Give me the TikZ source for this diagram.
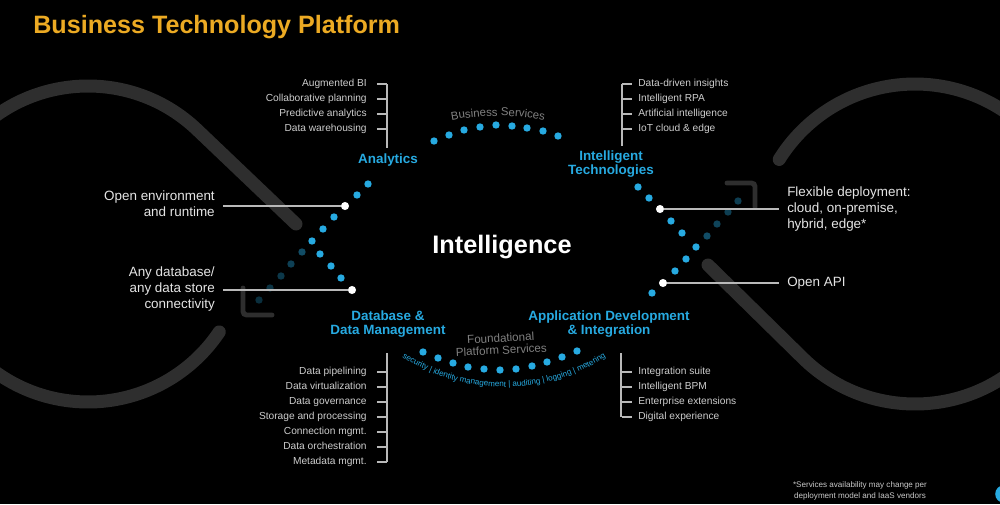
\documentclass[tikz,border=0pt]{standalone}
\usepackage{fontspec}
\setmainfont{Liberation Sans}
\usetikzlibrary{decorations.text}
\definecolor{sapgold}{RGB}{236,170,35}
\definecolor{sapblue}{RGB}{39,170,225}
\definecolor{loopgray}{RGB}{46,46,46}
\definecolor{listgray}{RGB}{205,205,205}
\definecolor{softwhite}{RGB}{228,228,228}
\definecolor{linegray}{RGB}{185,185,185}
\definecolor{svcgray}{RGB}{128,128,128}
\definecolor{notegray}{RGB}{200,200,200}

\begin{document}
\begin{tikzpicture}[
    x=0.02cm, y=-0.02cm,
    area/.style={
        font=\fontsize{7.65}{7.55}\selectfont\bfseries,
        text=sapblue,
        align=center,
        inner sep=0pt
    },
    sidetext/.style={
        font=\fontsize{7.65}{9.1}\selectfont,
        text=softwhite,
        inner xsep=4.5pt,
        inner ysep=0pt
    },
    itemtext/.style={
        font=\fontsize{5.8}{7}\selectfont,
        text=listgray,
        inner sep=0pt,
        text height=4pt,
        text depth=1.2pt
    },
    bracket/.style={draw=linegray, line width=0.8pt},
    lead/.style={draw=linegray, line width=0.8pt},
    loop/.style={draw=loopgray, line width=7.4pt, line cap=round},
    corner/.style={draw=loopgray, line width=2.8pt, line cap=round, rounded corners=2pt},
    whitedot/.style={circle, fill=white, inner sep=0pt, minimum size=4.6pt}
]

\clip (0,0) rectangle (1000,504);
\fill[black] (0,0) rectangle (1000,504);

% Lacos de fundo
\draw[loop] (296,224) -- ([shift={(88,244)}]-46.4:158)
    arc[start angle=-46.4, end angle=-326.2, radius=158];
\draw[loop] (708,265) -- ([shift={(915,244)}]134.5:160)
    arc[start angle=134.5, end angle=-148.1, radius=160];
\draw[corner] (243,288) -- (243,315) -- (272,315);
\draw[corner] (727,183) -- (755,183) -- (755,207);

% Titulo
\node[font=\fontsize{14.3}{17}\selectfont\bfseries, text=sapgold, anchor=base west, inner sep=0pt]
    (title) at (33,33) {Business Technology Platform};

% Centro
\node[font=\fontsize{14.4}{17}\selectfont\bfseries, text=white, anchor=base, inner sep=0pt]
    (intel) at (502,253) {Intelligence};

% Pontos azuis
\foreach \x/\y in {434/141, 449/135, 464/130, 480/127, 496/125, 512/126, 527/128, 543/131, 558/136,
                   368/184, 357/195, 334/217, 323/229, 312/241, 320/254, 331/266, 341/278,
                   638/187, 649/198, 671/221, 682/233, 696/247, 686/259, 675/271, 652/293,
                   423/352, 438/358, 453/363, 468/367, 484/369, 500/370, 516/369, 532/366,
                   547/362, 562/357, 577/351}
    \fill[sapblue] (\x,\y) circle (2.1pt);
\foreach \x/\y/\o in {302/252/0.45, 291/264/0.38, 281/276/0.33, 270/288/0.3, 259/300/0.28,
                      707/236/0.45, 717/224/0.4, 728/212/0.37, 738/201/0.37}
    \fill[sapblue, opacity=\o] (\x,\y) circle (2.1pt);

% Areas
\node[area] (analytics) at (388,160) {Analytics};
\node[area] (inteltech) at (611,164) {Intelligent\\Technologies};
\node[area] (database) at (388,324) {Database \&\\Data Management};
\node[area] (appdev) at (609,324) {Application Development\\\& Integration};

% Servicos
\path[decorate, decoration={text along path, text align=center, text color=svcgray,
        text={|\fontsize{6.5}{7}\selectfont|Business Services}}]
    ([shift={(498,376)}]-112:260) arc[start angle=-112, end angle=-68, radius=260];
\node[font=\fontsize{6.6}{6.8}\selectfont, text=svcgray, align=center, rotate=3, inner sep=0pt]
    (fps) at (501,344) {Foundational\\Platform Services};
\path[decorate, decoration={text along path, text align=center, text color=sapblue,
        text format delimiters={[}{]},
        text={[\fontsize{4.6}{5}\selectfont]security | identity management | auditing | logging | metering}}]
    ([shift={(504,199)}]130:188) arc[start angle=130, end angle=50, radius=188];

% Analytics
\foreach \txt [count=\i] in {Augmented BI, Collaborative planning, Predictive analytics, Data warehousing} {
    \node[itemtext, anchor=east] (an\i) at (367,69+15*\i) {\txt};
    \draw[bracket] ([xshift=5.67pt]an\i.east) -- ++(10,0);
}
\draw[bracket] (387,84) -- (387,148);

% Intelligent Technologies
\foreach \txt [count=\i] in {Data-driven insights, Intelligent RPA, Artificial intelligence, IoT cloud \& edge} {
    \node[itemtext, anchor=west] (it\i) at (638,69+15*\i) {\txt};
    \draw[bracket] ([xshift=-3.7pt]it\i.west) -- ++(-10,0);
}
\draw[bracket] (622,84) -- (622,146);

% Database & Data Management
\foreach \txt [count=\i] in {Data pipelining, Data virtualization, Data governance, Storage and processing,
                             Connection mgmt., Data orchestration, Metadata mgmt.} {
    \node[itemtext, anchor=east] (db\i) at (367,357+15*\i) {\txt};
    \draw[bracket] ([xshift=5.67pt]db\i.east) -- ++(10,0);
}
\draw[bracket] (387,353) -- (387,462);

% Application Development & Integration
\foreach \txt [count=\i] in {Integration suite, Intelligent BPM, Enterprise extensions, Digital experience} {
    \node[itemtext, anchor=west] (ad\i) at (638,357+15*\i) {\txt};
    \draw[bracket] ([xshift=-3.7pt]ad\i.west) -- ++(-10,0);
}
\draw[bracket] (621,353) -- (621,417);

% Pontos brancos e rotulos
\node[whitedot] (envdot) at (345,206) {};
\node[whitedot] (dbdot) at (352,290) {};
\node[whitedot] (depdot) at (660,209) {};
\node[whitedot] (apidot) at (663,283) {};

\node[sidetext, align=right, anchor=east] (envlbl) at (223,203.5) {Open environment\\and runtime};
\node[sidetext, align=right, anchor=east] (dblbl) at (223,289) {Any database/\\any data store\\connectivity};
\node[sidetext, align=left, anchor=west] (deplbl) at (779,209) {Flexible deployment:\\cloud, on-premise,\\hybrid, edge*};
\node[sidetext, align=left, anchor=west] (apilbl) at (779,283) {Open API};

\draw[lead] (envdot) -- (envdot -| envlbl.east);
\draw[lead] (dbdot) -- (dbdot -| dblbl.east);
\draw[lead] (depdot) -- (depdot -| deplbl.west);
\draw[lead] (apidot) -- (apidot -| apilbl.west);

% Nota
\node[font=\fontsize{4.6}{6.2}\selectfont, text=notegray, align=center, inner sep=0pt]
    (note) at (860,491) {*Services availability may change per\\deployment model and IaaS vendors};
\fill[sapblue] (1004,494) circle (5pt);

\end{tikzpicture}
\end{document}
